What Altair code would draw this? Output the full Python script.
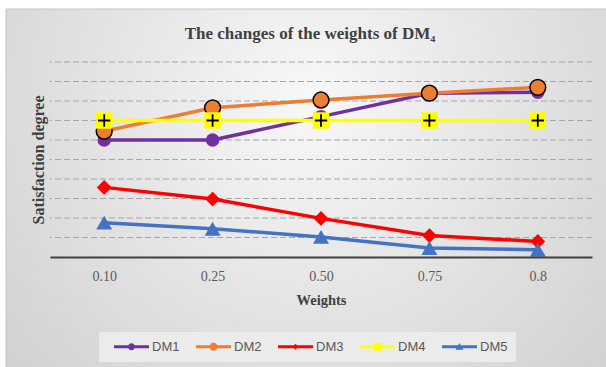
import altair as alt
import pandas as pd

weights = ["0.10", "0.25", "0.50", "0.75", "0.8"]
series = ["DM1", "DM2", "DM3", "DM4", "DM5"]
dm1 = [6.0, 6.0, 7.2, 8.4, 8.45]
dm2 = [6.45, 7.65, 8.05, 8.4, 8.7]
dm3 = [3.57, 2.97, 1.98, 1.1, 0.8]
dm4 = [7.0, 7.0, 7.0, 7.0, 7.0]
dm5 = [1.76, 1.45, 1.03, 0.46, 0.37]
grid_levels = [1, 2, 3, 4, 5, 6, 7, 8, 9, 10]
colors = ["#7030a0", "#ed7d31", "#ff0000", "#ffff00", "#4472c4"]
title_text = "The changes of the weights of DM₄"

values = {"DM1": dm1, "DM2": dm2, "DM3": dm3, "DM4": dm4, "DM5": dm5}
rows = []
for s in series:
    for w, v in zip(weights, values[s]):
        rows.append({"weight": w, "series": s, "value": v})
df = pd.DataFrame(rows)
grid_df = pd.DataFrame({"level": grid_levels})

SERIF = "Liberation Serif"
SANS = "Liberation Sans"

y_scale = alt.Scale(domain=[0, 10], nice=False, zero=True)
y_axis = alt.Axis(
    title="Satisfaction degree", values=grid_levels, labels=False,
    ticks=False, domain=False, grid=False, zindex=1,
    titleFont=SERIF, titleFontSize=16, titleFontWeight="bold",
    titleColor="#404040", titlePadding=4,
)

x_enc = alt.X(
    "weight:N", sort=weights,
    scale=alt.Scale(type="point", padding=0.5),
    axis=alt.Axis(
        title="Weights", labelAngle=0, ticks=False, tickSize=0, grid=False,
        domain=True, domainColor="#404040", domainWidth=2, zindex=1,
        labelFont=SERIF, labelFontSize=14, labelColor="#595959", labelPadding=12,
        titleFont=SERIF, titleFontSize=14.5, titleFontWeight="bold",
        titleColor="#404040", titlePadding=10,
    ),
)
y_enc = alt.Y("value:Q", scale=y_scale, axis=y_axis,
              title="Satisfaction degree")

base = alt.Chart(df).encode(x=x_enc, y=y_enc)

bg = alt.Chart(alt.Data(values=[{}])).mark_rect(
    fill=alt.RadialGradient(
        gradient="radial", x1=0.5, y1=0.35, r1=0, x2=0.5, y2=0.35, r2=0.8,
        stops=[alt.GradientStop(offset=0, color="#f8f8f8"),
               alt.GradientStop(offset=1, color="#c9c9c9")],
    ),
    stroke="#c4c4c4", strokeWidth=1,
).encode(
    x=alt.value(-44), x2=alt.value(562), y=alt.value(-53), y2=alt.value(312)
)

grid = alt.Chart(grid_df).mark_rule(
    color="#a6a6a6", strokeWidth=1.2, strokeDash=[6, 3]
).encode(y=alt.Y("level:Q", scale=y_scale, axis=y_axis,
                 title="Satisfaction degree"))

title = alt.Chart(alt.Data(values=[{}])).mark_text(
    text=title_text, font=SERIF, fontSize=17, fontWeight="bold",
    color="#404040", align="center", baseline="alphabetic",
).encode(x=alt.value(260), y=alt.value(-23.5))

marker_shapes = {
    "DM1": dict(shape="circle", size=180),
    "DM2": dict(shape="circle", size=250, stroke="black", strokeWidth=1.5),
    "DM3": dict(shape="diamond", size=220),
    "DM4": dict(shape="square", size=270),
    "DM5": dict(shape="triangle-up", size=256),
}

layers = [bg, grid, title]
for s, c in zip(series, colors):
    sub = base.transform_filter(alt.datum.series == s)
    layers.append(sub.mark_line(color=c, strokeWidth=3.5))
    opts = dict(marker_shapes[s])
    stroke = opts.pop("stroke", None)
    sw = opts.pop("strokeWidth", 0)
    if stroke:
        layers.append(sub.mark_point(filled=True, fill=c, stroke=stroke,
                                     strokeWidth=sw, opacity=1, **opts))
    else:
        layers.append(sub.mark_point(filled=True, color=c, opacity=1, **opts))
    if s == "DM4":
        layers.append(sub.mark_point(
            shape="M-0.75,0L0.75,0M0,-0.75L0,0.75", size=270, filled=False,
            color="black", strokeWidth=1.8, opacity=1))

line_path = "M-3.5,-0.3L3.5,-0.3L3.5,0.3L-3.5,0.3Z"
legend_paths = [
    line_path + "M0.7,0A0.7,0.7 0 1,1 -0.7,0A0.7,0.7 0 1,1 0.7,0Z",
    line_path + "M0.8,0A0.8,0.8 0 1,1 -0.8,0A0.8,0.8 0 1,1 0.8,0Z",
    line_path + "M0,-0.6L0.6,0L0,0.6L-0.6,0Z",
    line_path + "M-0.8,-0.8L0.8,-0.8L0.8,0.8L-0.8,0.8Z",
    line_path + "M0,-0.75L0.8,0.6L-0.8,0.6Z",
]

legend_layer = base.transform_filter(alt.datum.value < -100).mark_point(
    filled=True, size=100, opacity=1
).encode(
    color=alt.Color("series:N", sort=series,
                    scale=alt.Scale(domain=series, range=colors),
                    legend=alt.Legend(
                        title=None, orient="none", legendX=49, legendY=270,
                        direction="horizontal", columns=5,
                        fillColor="#ebebeb", padding=8,
                        symbolOpacity=1, symbolStrokeWidth=0, symbolSize=100,
                        symbolOffset=18, labelOffset=14, columnPadding=9,
                        labelFont=SANS, labelFontSize=13, labelColor="#595959",
                    )),
    shape=alt.Shape("series:N", sort=series,
                    scale=alt.Scale(domain=series, range=legend_paths)),
)
layers.append(legend_layer)

chart = alt.layer(*layers).properties(
    width=542, height=195,
    padding={"left": 50, "top": 62, "right": 14, "bottom": 110},
    autosize=alt.AutoSizeParams(type="none"),
    background="white",
).configure_view(stroke=None)

chart.save("out.html", embed_options={"renderer": "svg", "actions": False})
